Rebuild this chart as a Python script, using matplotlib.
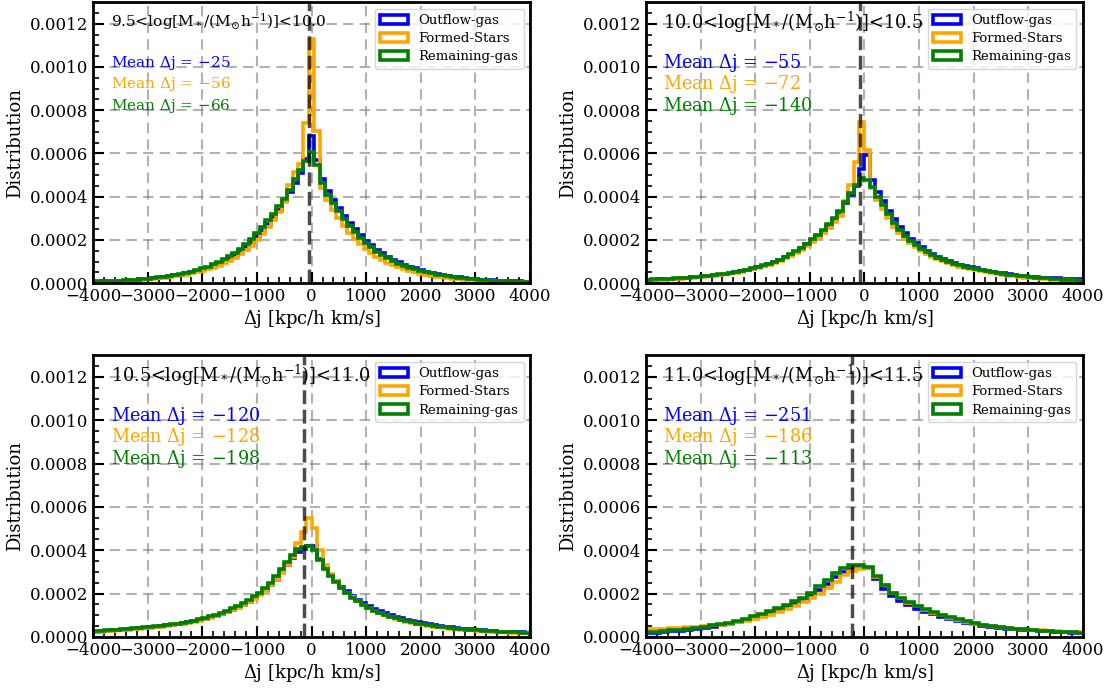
import numpy as np
import matplotlib.pyplot as plt

plt.rcParams['font.family'] = 'DejaVu Serif'
plt.rcParams['mathtext.fontset'] = 'dejavuserif'

mass_bins = ["9.5", "10.0", "10.5", "11.0", "11.5"]
series_names = ["Outflow-gas", "Formed-Stars", "Remaining-gas"]
series_colors = ["blue", "orange", "green"]

# mean delta j per mass bin: outflow, formed stars, remaining gas
mean_dj = [[-25, -56, -66],
           [-55, -72, -140],
           [-120, -128, -198],
           [-251, -186, -113]]
# overall mean shown as the dashed line
mean_line = [-45, -86, -137, -220]

# histogram bin edges per panel
bin_edges = [np.arange(-4050, 4051, 100),
             np.arange(-4000, 4001, 100),
             np.arange(-4000, 4001, 100),
             np.arange(-4050, 4051, 150)]

# normalised counts per bin, in units of 1e-6
p1_out = [6, 7, 8, 9, 10, 11, 12, 14, 16, 18, 20, 22, 25, 28, 32, 36, 40, 45, 51, 57,
          64, 72, 82, 92, 104, 117, 131, 148, 168, 190, 218, 245, 274, 305, 340, 378, 420, 465, 510, 575,
          680,
          570, 480, 425, 385, 348, 312, 280, 250, 222, 197, 175, 155, 138, 122, 108, 96, 86, 76, 68, 60,
          54, 48, 43, 38, 34, 30, 27, 24, 21, 19, 17, 15, 13, 12, 11, 10, 9, 8, 7, 6]
p1_stars = [5, 6, 7, 8, 9, 10, 11, 12, 14, 16, 18, 20, 22, 25, 28, 32, 36, 40, 45, 51,
            57, 64, 72, 81, 92, 104, 118, 134, 152, 174, 198, 226, 258, 292, 330, 375, 455, 515, 550, 740,
            1130,
            705, 440, 385, 340, 300, 265, 234, 206, 181, 159, 140, 123, 108, 95, 84, 74, 65, 57, 50, 44,
            39, 34, 30, 27, 24, 21, 19, 17, 15, 13, 12, 11, 10, 9, 8, 7, 6, 5, 5, 4]
p1_gas = [7, 8, 9, 10, 11, 12, 13, 15, 17, 19, 21, 24, 27, 30, 34, 38, 43, 48, 54, 61,
          69, 77, 87, 98, 110, 124, 139, 158, 182, 206, 232, 260, 290, 322, 356, 390, 432, 480, 525, 565,
          605,
          545, 465, 410, 370, 333, 298, 266, 237, 210, 186, 165, 146, 130, 115, 102, 91, 81, 72, 64, 57,
          51, 45, 40, 36, 32, 28, 25, 22, 20, 18, 16, 14, 12, 11, 10, 9, 8, 7, 6, 5]

p2_out = [16, 17, 18, 19, 20, 21, 23, 25, 27, 29, 31, 34, 37, 40, 43, 47, 51, 56, 61, 67,
          74, 81, 89, 98, 108, 119, 132, 146, 162, 179, 198, 218, 240, 265, 295, 330, 370, 410, 450, 530,
          595, 475, 420, 378, 335, 296, 262, 232, 206, 184, 165, 149, 135, 123, 112, 102, 93, 86, 79, 73,
          68, 63, 58, 53, 49, 45, 41, 38, 35, 32, 30, 28, 26, 24, 23, 22, 21, 20, 20, 19]
p2_stars = [14, 15, 16, 17, 18, 19, 21, 23, 25, 27, 29, 32, 35, 38, 41, 45, 49, 54, 59, 65,
            71, 78, 86, 95, 104, 115, 127, 140, 155, 172, 190, 210, 232, 256, 282, 312, 380, 455, 560, 745,
            615, 440, 385, 345, 300, 262, 232, 206, 184, 165, 149, 135, 122, 111, 101, 92, 84, 77, 71, 65,
            60, 55, 50, 46, 42, 38, 35, 32, 29, 26, 24, 22, 20, 18, 16, 15, 14, 13, 12, 11]
p2_gas = [17, 18, 19, 20, 21, 22, 24, 26, 28, 30, 32, 35, 38, 41, 44, 48, 52, 57, 62, 68,
          75, 82, 90, 99, 109, 120, 133, 147, 163, 180, 205, 225, 248, 272, 300, 335, 375, 415, 455, 485,
          475, 445, 400, 360, 318, 280, 248, 220, 196, 175, 158, 143, 130, 118, 107, 98, 90, 83, 77, 71,
          66, 61, 56, 52, 48, 44, 40, 37, 34, 31, 28, 26, 24, 22, 20, 18, 16, 14, 13, 12]

p3_out = [24, 26, 28, 30, 32, 34, 36, 38, 40, 42, 44, 47, 50, 53, 56, 60, 64, 68, 73, 78,
          84, 91, 98, 106, 115, 125, 136, 148, 162, 178, 196, 215, 238, 265, 298, 332, 365, 392, 408, 420,
          418, 362, 320, 288, 258, 232, 210, 190, 172, 157, 143, 131, 120, 110, 101, 93, 86, 80, 74, 68,
          63, 59, 55, 51, 48, 45, 42, 39, 37, 35, 33, 31, 29, 27, 25, 24, 23, 22, 21, 20]
p3_stars = [22, 24, 26, 28, 30, 32, 34, 36, 38, 40, 42, 45, 48, 51, 54, 58, 62, 66, 71, 76,
            82, 89, 96, 104, 113, 123, 134, 146, 160, 176, 194, 214, 238, 265, 296, 330, 368, 435, 483, 550,
            503, 403, 330, 290, 256, 228, 204, 183, 165, 149, 135, 122, 111, 101, 92, 84, 77, 71, 65, 60,
            56, 52, 48, 45, 42, 39, 36, 34, 32, 30, 28, 26, 25, 24, 22, 21, 20, 19, 18, 17]
p3_gas = [26, 28, 30, 32, 34, 36, 38, 40, 42, 44, 46, 49, 52, 55, 58, 62, 66, 70, 75, 81,
          88, 95, 103, 112, 122, 133, 145, 158, 172, 188, 205, 225, 250, 280, 315, 348, 380, 405, 415, 418,
          400, 355, 315, 282, 252, 225, 202, 182, 164, 148, 134, 122, 111, 101, 93, 86, 79, 73, 67, 62,
          58, 54, 50, 47, 44, 41, 38, 36, 34, 32, 30, 28, 27, 26, 24, 23, 22, 21, 20, 19]

p4_out = [18, 20, 23, 26, 29, 33, 37, 42, 47, 53, 60, 68, 77, 87, 98, 110, 123, 138, 153, 170,
          192, 218, 246, 275, 298, 312, 318,
          318, 268, 222, 188, 165, 147, 131, 117, 104, 93, 83, 74, 66, 58, 52, 47, 43, 39, 36, 33,
          30, 28, 26, 24, 22, 20, 18]
p4_stars = [35, 37, 39, 41, 43, 45, 47, 50, 53, 57, 62, 68, 75, 83, 92, 102, 114, 128, 143, 160,
            178, 200, 225, 255, 285, 305, 315,
            318, 278, 238, 203, 178, 158, 141, 126, 112, 100, 89, 79, 70, 62, 56, 51, 46, 42, 38, 35,
            32, 30, 28, 26, 24, 23, 22]
p4_gas = [21, 24, 27, 30, 34, 38, 42, 47, 53, 59, 66, 74, 84, 95, 106, 118, 132, 148, 164, 180,
          205, 235, 262, 296, 317, 333, 333,
          322, 280, 240, 205, 180, 160, 143, 128, 114, 102, 91, 81, 72, 63, 57, 52, 47, 43, 39, 35,
          32, 29, 27, 25, 23, 21, 20]

panels = [[p1_out, p1_stars, p1_gas],
          [p2_out, p2_stars, p2_gas],
          [p3_out, p3_stars, p3_gas],
          [p4_out, p4_stars, p4_gas]]

# first panel was drawn with slightly smaller annotation text
label_size = [11.1, 12.8, 12.8, 12.8]
mean_size = [11.0, 12.7, 12.7, 12.7]

fig = plt.figure(figsize=(11.09, 6.89), dpi=100)
ax_pos = [[0.084, 0.589, 0.394, 0.408],
          [0.5825, 0.589, 0.394, 0.408],
          [0.084, 0.0755, 0.394, 0.409],
          [0.5825, 0.0755, 0.394, 0.409]]

for i in range(4):
    ax = fig.add_axes(ax_pos[i])
    edges = bin_edges[i]
    centers = 0.5 * (edges[:-1] + edges[1:])
    for vals, name, c in zip(panels[i], series_names, series_colors):
        ax.hist(centers, bins=edges, weights=np.array(vals) * 1e-6,
                histtype='step', color=c, lw=2.6, label=name)
    ax.axvline(mean_line[i], color='k', ls='--', lw=2.5, alpha=0.7, dashes=(4, 1.6))

    ax.set_xlim(-4000, 4000)
    ax.set_ylim(0, 0.0013)
    ax.set_xticks(np.arange(-4000, 4001, 1000))
    ax.set_yticks(np.arange(0, 0.00121, 0.0002))
    ax.set_xticks(np.arange(-4000, 4001, 200), minor=True)
    ax.set_yticks(np.arange(0, 0.0013, 0.00005), minor=True)
    ax.yaxis.set_major_formatter(plt.FormatStrFormatter('%.4f'))
    ax.tick_params(which='major', direction='in', length=8, width=1.5, labelsize=12)
    ax.tick_params(which='minor', direction='in', length=4, width=1.2)
    for sp in ax.spines.values():
        sp.set_linewidth(2)
    ax.grid(True, which='major', ls='--', lw=1.5, color='gray', alpha=0.6, dashes=(5, 3))
    ax.set_axisbelow(True)

    ax.set_xlabel(r'$\Delta$j [kpc/h km/s]', fontsize=13, labelpad=2)
    ax.set_ylabel('Distribution', fontsize=13)

    ax.text(0.04, 0.929,
            mass_bins[i] + r'<log[M$_*$/(M$_{\odot}$h$^{-1}$)]<' + mass_bins[i + 1],
            transform=ax.transAxes, fontsize=label_size[i], va='center', ha='left')
    for k in range(3):
        ax.text(0.04, 0.785 - 0.077 * k, r'Mean $\Delta$j = $-$%d' % abs(mean_dj[i][k]),
                transform=ax.transAxes, fontsize=mean_size[i], color=series_colors[k],
                va='center', ha='left')
    ax.legend(loc='upper right', fontsize=9.5, borderaxespad=0.5,
              handlelength=2.1, labelspacing=0.4, framealpha=0.8)

fig.savefig('out.png', dpi=100)
